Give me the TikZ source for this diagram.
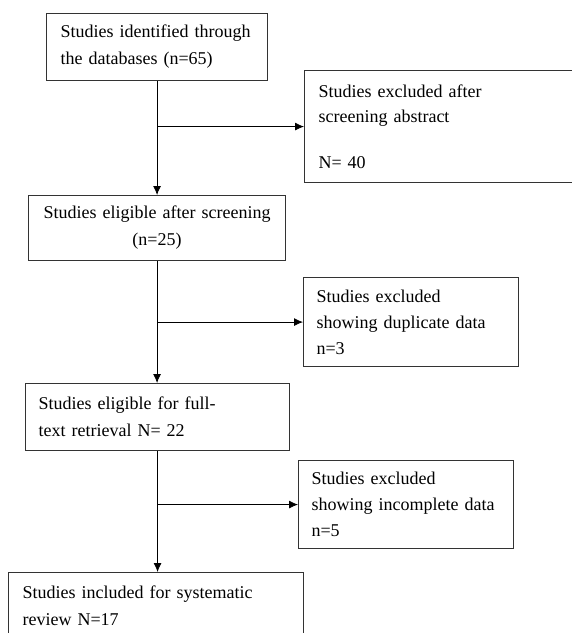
\documentclass[tikz,border=0pt]{standalone}
\usepackage{fontspec}
\setmainfont{Liberation Serif}
\usetikzlibrary{arrows.meta,positioning}

\begin{document}
\begin{tikzpicture}[
  x=1pt,y=-1pt,
  every node/.style={font=\fontsize{18}{27}\selectfont},
  flowbox/.style={draw=black!80,line width=1.1pt,anchor=north west,align=left,inner xsep=14pt,inner ysep=0pt},
  flow/.style={-{Latex[length=9pt,width=8pt]},line width=0.8pt}
]
\useasboundingbox (0,0) rectangle (572,633);
\clip (0,0) rectangle (572,633);

% main column
\node[flowbox,text width=193pt,minimum height=67pt] (ident) at (46,13) {Studies identified through\\the databases (n=65)};
\node[flowbox,text width=229pt,minimum height=65pt,align=center] (elig) at (28,195) {Studies eligible after screening\\(n=25)};
\node[flowbox,text width=238pt,inner xsep=13pt,minimum height=67pt] (full) at (25,383) {Studies eligible for full-\\text retrieval N= 22};
\node[flowbox,text width=267pt,minimum height=67pt] (incl) at (8,572) {Studies included for systematic\\review N=17};

% exclusions
\node[flowbox,text width=258pt,minimum height=112pt,font=\fontsize{18}{25}\selectfont] (excla) at (304,70) {Studies excluded after\\screening abstract\\[21pt]N= 40};
\node[flowbox,text width=189pt,inner xsep=13pt,minimum height=89pt,font=\fontsize{18}{26}\selectfont] (exclb) at (303,277) {Studies excluded\\showing duplicate data\\n=3};
\node[flowbox,text width=189pt,inner xsep=13pt,minimum height=88pt,font=\fontsize{18}{26}\selectfont] (exclc) at (298,460) {Studies excluded\\showing incomplete data\\n=5};

\draw[flow] (ident.south) -- (ident.south |- elig.north);
\draw[flow] (elig.south) -- (elig.south |- full.north);
\draw[flow] (full.south) -- (full.south |- incl.north);

\draw[flow] (ident.south |- excla.west) -- (excla.west);
\draw[flow] (elig.south |- exclb.west) -- (exclb.west);
\draw[flow] (full.south |- exclc.west) -- (exclc.west);
\end{tikzpicture}
\end{document}
